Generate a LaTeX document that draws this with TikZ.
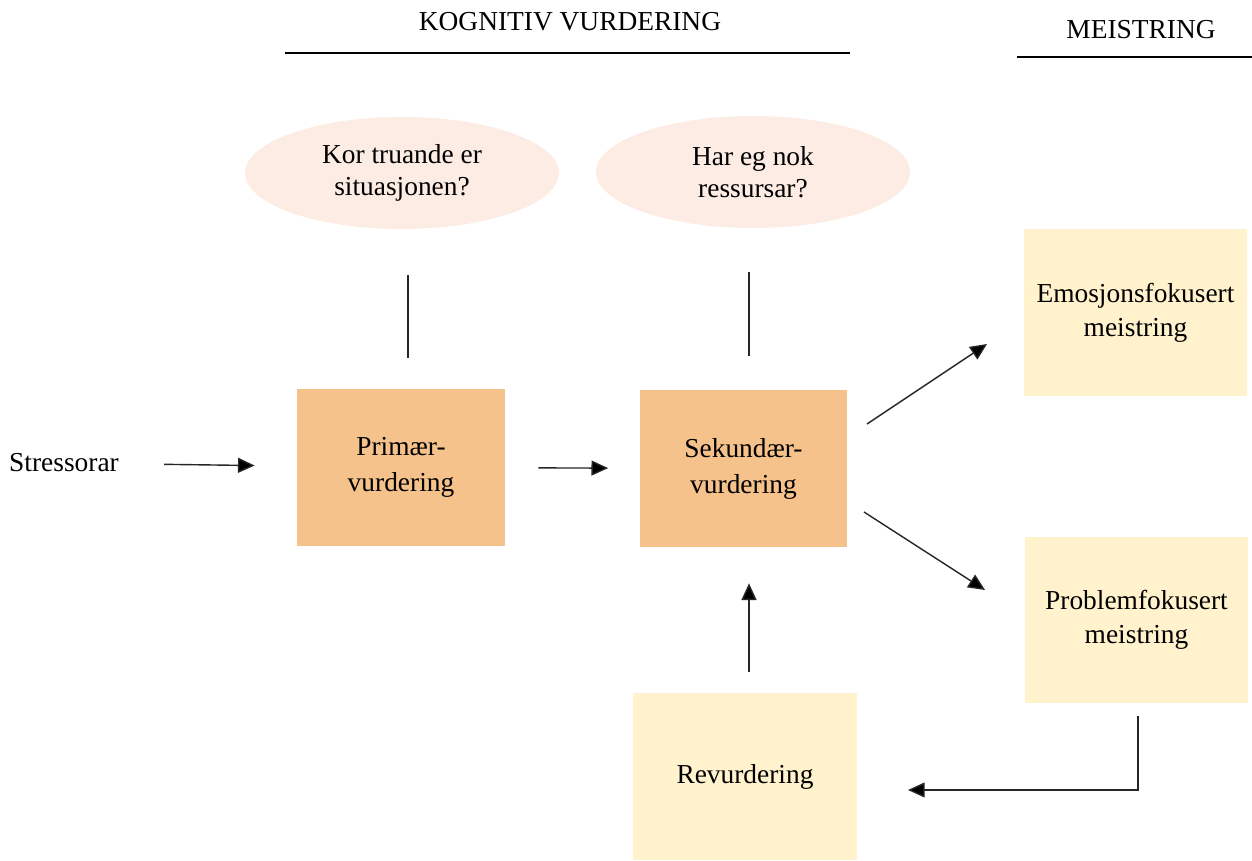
\documentclass[tikz,border=0pt]{standalone}
\usepackage{fontspec}
\setmainfont{Liberation Serif}
\usepackage{xcolor}
\usetikzlibrary{arrows.meta,positioning,shapes.geometric}
\definecolor{askpink}{RGB}{252,236,228}
\definecolor{evalorange}{RGB}{245,194,139}
\definecolor{copeyellow}{RGB}{255,242,204}

\begin{document}
\begin{tikzpicture}[
  x=0.02cm, y=-0.02cm,
  every node/.style={font=\fontsize{15.6}{19}\selectfont, align=center},
  ask/.style={ellipse, fill=askpink, minimum width=6.28cm, minimum height=2.24cm, inner sep=0pt, font=\fontsize{15.6}{18.5}\selectfont},
  evalbox/.style={rectangle, fill=evalorange, minimum width=4.16cm, minimum height=3.14cm, font=\fontsize{15.6}{20.5}\selectfont},
  copebox/.style={rectangle, fill=copeyellow, minimum width=4.48cm, minimum height=3.34cm, font=\fontsize{15.6}{19.5}\selectfont},
  link/.style={draw=black!85, line width=0.8pt},
  arr/.style={link, -{Triangle[length=9.5pt, width=8.5pt, fill=black]}}
]
  \useasboundingbox (0,0) rectangle (1252,861);

  % headings
  \node (kog) at (570,22) {KOGNITIV VURDERING};
  \node (mei) at (1141,30) {MEISTRING};
  \coordinate (kogl) at (285,53);
  \coordinate (kogr) at (850,53);
  \coordinate (meil) at (1017,57);
  \coordinate (meir) at (1252,57);
  \draw[line width=0.6pt] (kogl) -- (kogr);
  \draw[line width=0.6pt] (meil) -- (meir);

  % questions
  \node[ask] (q1) at (402,173) {Kor truande er\\situasjonen?};
  \node[ask] (q2) at (753,172) {Har eg nok\\ressursar?};

  % appraisal
  \node[inner sep=0pt] (stress) at (64,463) {Stressorar};
  \node[evalbox] (prim) at (401,467.5) {Primær-\\vurdering};
  \node[evalbox] (sek) at (743.5,468.5) {Sekundær-\\vurdering};

  % coping
  \node[copebox] (emo) at (1135.5,312.5) {Emosjonsfokusert\\meistring};
  \node[copebox] (prob) at (1136.5,620) {Problemfokusert\\meistring};
  \node[copebox] (rev) at (745,776.5) {Revurdering};

  \draw[link] ([xshift=0.12cm, yshift=-0.92cm]q1.south) -- ++(0,83);
  \draw[link] ([xshift=-0.08cm, yshift=-0.88cm]q2.south) -- ++(0,84);

  \draw[arr, shorten <=0.9cm, shorten >=0.84cm] (stress) -- (prim);
  \draw[arr, shorten <=0.66cm, shorten >=0.62cm] (prim) -- (sek);

  \coordinate (up1) at (867,424);
  \coordinate (up2) at (987,344);
  \coordinate (dn1) at (864,512);
  \coordinate (dn2) at (985,590);
  \draw[arr] (up1) -- (up2);
  \draw[arr] (dn1) -- (dn2);

  \draw[arr, shorten <=0.42cm, shorten >=0.72cm] ([xshift=0.08cm]rev.north) -- ([xshift=0.08cm]rev.north |- sek.south);

  \coordinate (back) at (908,790);
  \draw[arr, shorten <=0.24cm] ([xshift=0.03cm]prob.south) |- (back);
\end{tikzpicture}
\end{document}
